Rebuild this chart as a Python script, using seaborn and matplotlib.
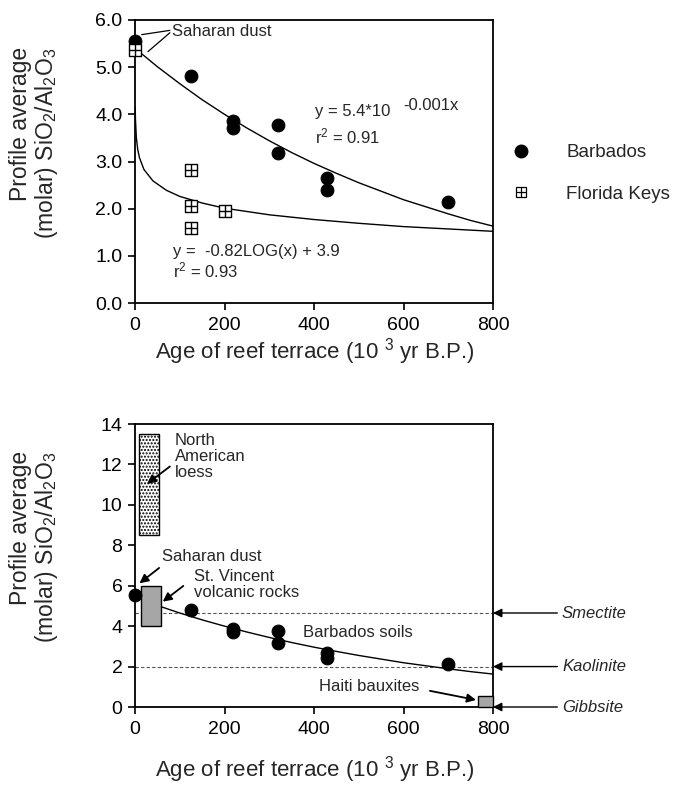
import numpy as np
import pandas as pd
import matplotlib
matplotlib.use('Agg')
import matplotlib.pyplot as plt
import seaborn as sns
from matplotlib.patches import Rectangle
from matplotlib.lines import Line2D

# soil profile averages (ages in 10^3 yr)
barb_age = [0, 125, 220, 220, 320, 320, 430, 430, 700]
barb_ratio = [5.55, 4.82, 3.85, 3.70, 3.78, 3.19, 2.66, 2.40, 2.14]
fk_age = [0, 125, 125, 125, 200]
fk_ratio = [5.37, 2.81, 2.06, 1.60, 1.94]

# fitted curves
exp_age = [0, 50, 100, 150, 200, 250, 300, 350, 400, 450, 500, 550, 600, 650, 700, 750, 800]
exp_ratio = [5.40, 5.01, 4.65, 4.31, 4.00, 3.71, 3.44, 3.19, 2.96, 2.75, 2.55, 2.37, 2.19, 2.04, 1.89, 1.75, 1.63]
log_age = [0.5, 1, 3, 6, 10, 20, 40, 70, 100, 150, 200, 300, 400, 500, 600, 700, 800]
log_ratio = [4.15, 3.90, 3.51, 3.26, 3.08, 2.83, 2.59, 2.39, 2.26, 2.12, 2.01, 1.87, 1.77, 1.69, 1.62, 1.57, 1.52]
soil_age = [57, 100, 150, 200, 250, 300, 350, 400, 450, 500, 550, 600, 650, 700, 750, 800]
soil_ratio = [4.97, 4.65, 4.31, 4.00, 3.71, 3.44, 3.19, 2.96, 2.75, 2.55, 2.37, 2.19, 2.04, 1.89, 1.75, 1.63]

# reference minerals and source materials
mineral_names = ['Smectite', 'Kaolinite', 'Gibbsite']
mineral_ratio = [4.65, 2.0, 0.0]
loess_box = [8, 54, 8.5, 13.5]      # x0, x1, y0, y1
vincent_box = [13, 57, 4.0, 6.0]
haiti_box = [766, 800, 0.0, 0.55]

sns.set_style('ticks')
plt.rcParams['font.family'] = ['Liberation Sans', 'DejaVu Sans']
plt.rcParams['mathtext.fontset'] = 'custom'
plt.rcParams['mathtext.rm'] = 'Liberation Sans'
plt.rcParams['mathtext.it'] = 'Liberation Sans:italic'
plt.rcParams['axes.linewidth'] = 1.3

W, H = 676, 785
fig = plt.figure(figsize=(W / 100, H / 100), dpi=100)
ax1 = fig.add_axes([135 / W, 1 - 303 / H, 358 / W, 283 / H])
ax2 = fig.add_axes([135 / W, 1 - 707 / H, 358 / W, 283 / H])

barb = pd.DataFrame({'age': barb_age, 'ratio': barb_ratio})
fk = pd.DataFrame({'age': fk_age, 'ratio': fk_ratio})

# ---------------- top panel ----------------
sns.lineplot(x=exp_age, y=exp_ratio, ax=ax1, color='black', lw=1.0)
sns.lineplot(x=log_age, y=log_ratio, ax=ax1, color='black', lw=1.0)
sns.scatterplot(data=barb, x='age', y='ratio', ax=ax1, color='black', s=85,
                marker='o', edgecolor='black', clip_on=False, zorder=5)
sns.scatterplot(data=fk, x='age', y='ratio', ax=ax1, color='white', s=85,
                marker='s', edgecolor='black', linewidth=1.0, clip_on=False, zorder=6)
sns.scatterplot(data=fk, x='age', y='ratio', ax=ax1, color='black', s=85,
                marker='+', linewidth=1.0, clip_on=False, zorder=7)

ax1.set_xlim(0, 800)
ax1.set_ylim(0, 6)
ax1.set_yticks(np.arange(0, 7, 1))
ax1.set_yticklabels([f'{v:.1f}' for v in np.arange(0, 7, 1)])

ax1.text(83, 5.75, 'Saharan dust', fontsize=12, va='center', ha='left')
ax1.plot([78, 15], [5.78, 5.69], color='black', lw=0.9)
ax1.plot([78, 29], [5.73, 5.33], color='black', lw=0.9)

ax1.text(402, 4.06, 'y = 5.4*10', fontsize=12, va='center', ha='left')
ax1.text(599, 4.19, '-0.001x', fontsize=12, va='center', ha='left')
ax1.text(402, 3.53, r'r$^{2}$ = 0.91', fontsize=12, va='center', ha='left')
ax1.text(85, 1.10, 'y =  -0.82LOG(x) + 3.9', fontsize=12, va='center', ha='left')
ax1.text(85, 0.68, r'r$^{2}$ = 0.93', fontsize=12, va='center', ha='left')

h_barb = Line2D([], [], marker='o', color='black', ls='none', ms=9)
h_sq = Line2D([], [], marker='s', mfc='white', mec='black', ls='none', ms=7, mew=0.9)
h_pl = Line2D([], [], marker='+', color='black', ls='none', ms=7, mew=0.9)
ax1.legend([h_barb, (h_sq, h_pl)], ['Barbados', 'Florida Keys'], frameon=False,
           fontsize=13.5, loc='upper left', bbox_to_anchor=(512 / W, 1 - 144 / H),
           bbox_transform=fig.transFigure, borderpad=0, handlelength=1.0,
           handletextpad=1.9, labelspacing=1.3, borderaxespad=0)

# ---------------- bottom panel ----------------
for y in mineral_ratio[:2]:
    ax2.axhline(y, color='#555555', lw=0.8, ls=(0, (3, 2)), zorder=1)

sns.lineplot(x=soil_age, y=soil_ratio, ax=ax2, color='black', lw=1.0)
sns.scatterplot(data=barb, x='age', y='ratio', ax=ax2, color='black', s=85,
                marker='o', edgecolor='black', clip_on=False, zorder=5)

x0, x1, y0, y1 = loess_box
ax2.add_patch(Rectangle((x0, y0), x1 - x0, y1 - y0, facecolor='white',
                        edgecolor='black', lw=1.0, hatch='.....', zorder=3))
x0, x1, y0, y1 = vincent_box
ax2.add_patch(Rectangle((x0, y0), x1 - x0, y1 - y0, facecolor='#a6a6a6',
                        edgecolor='black', lw=1.0, zorder=3))
x0, x1, y0, y1 = haiti_box
ax2.add_patch(Rectangle((x0, y0), x1 - x0, y1 - y0, facecolor='#a6a6a6',
                        edgecolor='black', lw=1.0, zorder=3, clip_on=False))

ax2.set_xlim(0, 800)
ax2.set_ylim(0, 14)
ax2.set_yticks(np.arange(0, 15, 2))

arrow = dict(arrowstyle='-|>', color='black', lw=1.3, mutation_scale=13, shrinkA=0, shrinkB=0)
ax2.text(89, 12.4, 'North\nAmerican\nloess', fontsize=12, va='center', ha='left', linespacing=1.1)
ax2.annotate('', xy=(27, 11.04), xytext=(78, 11.9), arrowprops=arrow)
ax2.text(60, 7.44, 'Saharan dust', fontsize=12, va='center', ha='left')
ax2.annotate('', xy=(10, 6.12), xytext=(54, 6.88), arrowprops=arrow)
ax2.text(132, 6.05, 'St. Vincent\nvolcanic rocks', fontsize=12, va='center', ha='left', linespacing=1.1)
ax2.annotate('', xy=(62, 5.21), xytext=(108, 5.99), arrowprops=arrow)
ax2.text(376, 3.7, 'Barbados soils', fontsize=12, va='center', ha='left')
ax2.text(411, 1.0, 'Haiti bauxites', fontsize=12, va='center', ha='left')
ax2.annotate('', xy=(762, 0.35), xytext=(659, 0.8), arrowprops=arrow)

for name, y in zip(mineral_names, mineral_ratio):
    ax2.annotate(name, xy=(800, y), xytext=((562 - 135) / 358, y),
                 textcoords=('axes fraction', 'data'), fontsize=12, style='italic',
                 va='center', ha='left', annotation_clip=False,
                 arrowprops=dict(arrowstyle='-|>', color='black', lw=1.0,
                                 mutation_scale=13, shrinkA=1, shrinkB=0))

for ax in (ax1, ax2):
    ax.set_xticks(np.arange(0, 801, 200))
    ax.tick_params(direction='out', length=5, width=1.2, labelsize=14, pad=4,
                   colors='black')
    ax.tick_params(axis='x', pad=5)
    ax.set_xlabel('')
    ax.set_ylabel('')
    for sp in ax.spines.values():
        sp.set_visible(True)
        sp.set_color('black')

ylab = 'Profile average\n(molar) SiO$_2$/Al$_2$O$_3$'
xlab = r'Age of reef terrace (10 $^{3}$ yr B.P.)'
fig.text(35 / W, 1 - 143 / H, ylab, rotation=90, fontsize=16.5, ha='center', va='center',
         multialignment='right', linespacing=1.05)
fig.text(35 / W, 1 - 547 / H, ylab, rotation=90, fontsize=16.5, ha='center', va='center',
         multialignment='right', linespacing=1.05)
fig.text(315 / W, 1 - 352 / H, xlab, fontsize=16, ha='center', va='center')
fig.text(315 / W, 1 - 770 / H, xlab, fontsize=16, ha='center', va='center')

fig.savefig('out.png', dpi=100, facecolor='white')
